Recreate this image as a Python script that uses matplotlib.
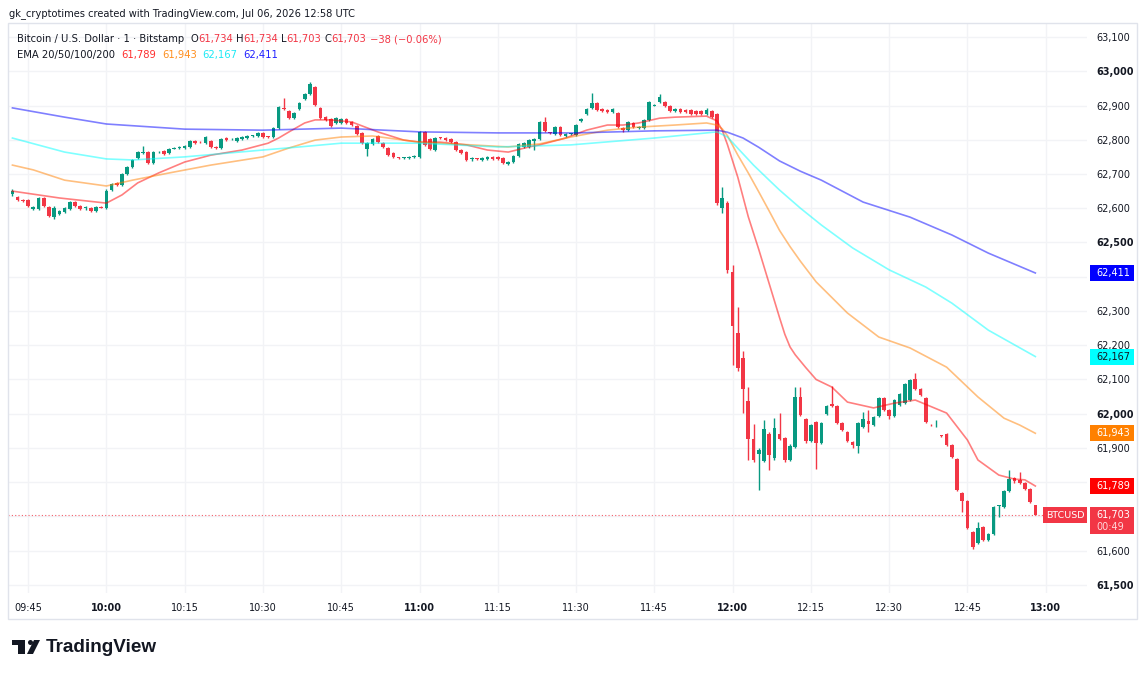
import matplotlib
matplotlib.use("Agg")
import matplotlib.pyplot as plt
from matplotlib.patches import Rectangle, Circle, Polygon
from matplotlib.transforms import IdentityTransform

# 1-minute BTCUSD candles, 09:42 .. 12:58 (index 0 = 09:42)
opens = [
    62642, 62632, 62624, 62624, 62598, 62598, 62630, 62604, 62575, 62583,
    62589, 62598, 62618, 62607, 62600, 62601, 62592, 62604, 62600, 62653,
    62674, 62668, 62700, 62720, 62746, 62761, 62764, 62732, 62763, 62767,
    62760, 62774, 62776, 62776, 62779, 62796, 62793, 62790, 62795, 62779,
    62776, 62805, 62801, 62796, 62802, 62805, 62810, 62811, 62820, 62808,
    62808, 62834, 62893, 62884, 62863, 62890, 62919, 62934, 62954, 62893,
    62866, 62861, 62849, 62849, 62861, 62852, 62840, 62820, 62773, 62788,
    62811, 62790, 62776, 62761, 62748, 62746, 62747, 62750, 62750, 62823,
    62802, 62770, 62806, 62805, 62802, 62793, 62770, 62764, 62743, 62745,
    62741, 62744, 62750, 62750, 62747, 62729, 62735, 62753, 62779, 62779,
    62796, 62802, 62852, 62821, 62817, 62837, 62811, 62816, 62814, 62855,
    62875, 62893, 62907, 62890, 62887, 62881, 62878, 62834, 62828, 62849,
    62834, 62834, 62858, 62900, 62910, 62910, 62899, 62884, 62890, 62887,
    62887, 62884, 62884, 62875, 62884, 62875, 62601, 62615, 62414, 62236,
    62163, 62037, 61926, 61882, 61862, 61941, 61871, 61941, 61929, 61865,
    61903, 62049, 61985, 61920, 61976, 61915, 61999, 62029, 62023, 61973,
    61947, 61917, 61906, 61961, 61979, 61967, 61993, 62046, 62011, 61993,
    62026, 62031, 62040, 62101, 62072, 62046, 61968, 61963, 61936, 61941,
    61909, 61868, 61769, 61745, 61655, 61623, 61669, 61631, 61649, 61730,
    61728, 61774, 61812, 61807, 61798, 61780, 61734]
highs = [
    62655, 62636, 62628, 62627, 62606, 62632, 62634, 62606, 62606, 62596,
    62603, 62620, 62622, 62610, 62608, 62604, 62606, 62607, 62655, 62674,
    62677, 62703, 62722, 62744, 62766, 62782, 62767, 62767, 62767, 62770,
    62776, 62779, 62783, 62785, 62799, 62800, 62796, 62810, 62798, 62782,
    62805, 62808, 62805, 62807, 62810, 62813, 62814, 62822, 62823, 62811,
    62836, 62898, 62922, 62888, 62881, 62909, 62936, 62969, 62957, 62896,
    62869, 62864, 62866, 62863, 62864, 62855, 62843, 62823, 62792, 62805,
    62814, 62793, 62779, 62764, 62751, 62751, 62753, 62756, 62826, 62826,
    62805, 62808, 62809, 62808, 62805, 62796, 62773, 62767, 62750, 62748,
    62750, 62752, 62753, 62753, 62750, 62738, 62756, 62791, 62793, 62801,
    62805, 62855, 62866, 62824, 62840, 62840, 62819, 62820, 62846, 62864,
    62892, 62936, 62910, 62893, 62890, 62892, 62881, 62837, 62855, 62852,
    62840, 62861, 62913, 62905, 62934, 62913, 62902, 62893, 62893, 62890,
    62890, 62887, 62887, 62893, 62887, 62878, 62662, 62620, 62434, 62312,
    62183, 62078, 61970, 61900, 61982, 61946, 61988, 62002, 61932, 61912,
    62078, 62078, 61988, 61970, 61979, 61976, 62026, 62081, 62026, 61976,
    61950, 61920, 61976, 62005, 62011, 61994, 62049, 62049, 62014, 62043,
    62061, 62090, 62101, 62119, 62075, 62049, 61970, 61982, 61938, 61944,
    61912, 61871, 61772, 61748, 61658, 61684, 61672, 61652, 61731, 61734,
    61777, 61836, 61815, 61830, 61801, 61783, 61734]
lows = [
    62636, 62620, 62618, 62604, 62595, 62596, 62605, 62574, 62570, 62580,
    62586, 62596, 62605, 62596, 62595, 62590, 62590, 62600, 62597, 62651,
    62665, 62666, 62698, 62718, 62744, 62758, 62728, 62730, 62760, 62755,
    62757, 62772, 62774, 62774, 62777, 62788, 62790, 62788, 62776, 62773,
    62774, 62796, 62799, 62794, 62800, 62803, 62808, 62809, 62806, 62805,
    62806, 62832, 62887, 62860, 62861, 62887, 62916, 62932, 62898, 62860,
    62855, 62837, 62847, 62846, 62846, 62841, 62814, 62787, 62753, 62786,
    62790, 62776, 62752, 62747, 62744, 62744, 62745, 62748, 62748, 62782,
    62770, 62767, 62803, 62797, 62791, 62767, 62758, 62738, 62738, 62741,
    62739, 62742, 62742, 62742, 62729, 62726, 62733, 62751, 62777, 62777,
    62770, 62800, 62823, 62817, 62815, 62811, 62809, 62814, 62812, 62853,
    62873, 62891, 62884, 62881, 62878, 62879, 62834, 62822, 62826, 62834,
    62832, 62832, 62856, 62898, 62908, 62896, 62881, 62882, 62879, 62879,
    62873, 62873, 62873, 62873, 62864, 62610, 62586, 62412, 62142, 62125,
    62002, 61865, 61860, 61777, 61858, 61836, 61866, 61922, 61860, 61862,
    61900, 61993, 61915, 61917, 61839, 61912, 61996, 62020, 61970, 61950,
    61917, 61900, 61885, 61958, 61947, 61964, 61990, 62008, 61985, 61990,
    62023, 62028, 62037, 62069, 62052, 61973, 61964, 61961, 61932, 61906,
    61871, 61774, 61713, 61663, 61605, 61620, 61627, 61627, 61646, 61699,
    61725, 61771, 61798, 61795, 61777, 61739, 61703]
closes = [
    62649, 62624, 62622, 62607, 62604, 62630, 62607, 62577, 62601, 62592,
    62601, 62618, 62607, 62598, 62601, 62592, 62604, 62602, 62650, 62671,
    62668, 62700, 62720, 62741, 62764, 62764, 62732, 62764, 62765, 62758,
    62773, 62776, 62779, 62782, 62796, 62790, 62792, 62808, 62779, 62776,
    62802, 62799, 62802, 62805, 62808, 62811, 62812, 62820, 62808, 62807,
    62834, 62896, 62890, 62863, 62878, 62907, 62934, 62963, 62901, 62863,
    62858, 62840, 62863, 62861, 62849, 62843, 62817, 62790, 62790, 62802,
    62793, 62779, 62755, 62750, 62747, 62748, 62750, 62753, 62823, 62785,
    62773, 62805, 62805, 62799, 62793, 62770, 62761, 62741, 62744, 62743,
    62747, 62750, 62744, 62744, 62732, 62735, 62753, 62788, 62790, 62799,
    62802, 62852, 62826, 62819, 62837, 62814, 62817, 62817, 62843, 62861,
    62890, 62907, 62887, 62884, 62881, 62890, 62837, 62828, 62852, 62837,
    62837, 62858, 62910, 62902, 62925, 62899, 62884, 62890, 62881, 62881,
    62875, 62875, 62875, 62887, 62866, 62615, 62630, 62420, 62256, 62134,
    62072, 61926, 61865, 61894, 61955, 61880, 61958, 61926, 61865, 61906,
    62049, 61996, 61920, 61967, 61915, 61973, 62023, 62023, 61973, 61953,
    61920, 61909, 61973, 61985, 61970, 61991, 62046, 62011, 61993, 62040,
    62058, 62087, 62098, 62072, 62055, 61976, 61966, 61965, 61934, 61909,
    61874, 61777, 61745, 61666, 61611, 61666, 61631, 61649, 61728, 61731,
    61774, 61809, 61804, 61798, 61780, 61741, 61703]

# EMA values at some candle indexes
ema20_t = [0, 9, 18, 21, 24, 28, 33, 38, 44, 49, 51, 53, 56, 58, 61, 65, 70, 75, 78, 82,
           87, 91, 95, 99, 101, 106, 110, 114, 117, 120, 124, 127, 133, 135, 136, 137, 139,
           141, 143, 145, 147, 148, 149, 150, 152, 154, 157, 160, 165, 169, 173, 179, 183,
           185, 189, 192, 194, 196]
ema20_v = [62650, 62630, 62615, 62639, 62674, 62703, 62735, 62755, 62770, 62790, 62805,
           62823, 62849, 62858, 62858, 62852, 62823, 62799, 62793, 62793, 62785, 62770,
           62764, 62779, 62785, 62805, 62828, 62843, 62843, 62849, 62863, 62866, 62869,
           62855, 62828, 62786, 62690, 62575, 62480, 62380, 62280, 62232, 62195, 62172,
           62135, 62100, 62078, 62034, 62017, 62031, 62040, 62002, 61923, 61865, 61821,
           61809, 61807, 61789]
ema50_t = [0, 4, 10, 18, 23, 30, 38, 48, 53, 58, 63, 69, 75, 78, 88, 95, 101, 107, 114,
           120, 127, 133, 135, 136, 137, 139, 141, 143, 145, 147, 149, 151, 154, 160, 166,
           172, 179, 185, 190, 193, 196]
ema50_v = [62726, 62712, 62682, 62665, 62682, 62703, 62726, 62750, 62776, 62799, 62808,
           62811, 62799, 62793, 62785, 62779, 62788, 62808, 62828, 62837, 62843, 62849,
           62843, 62832, 62812, 62755, 62703, 62648, 62592, 62535, 62488, 62445, 62385,
           62294, 62224, 62192, 62136, 62049, 61987, 61967, 61943]
ema100_t = [0, 10, 18, 23, 33, 48, 55, 63, 78, 93, 107, 123, 135, 137, 139, 142, 145, 147,
            151, 155, 161, 168, 175, 180, 187, 196]
ema100_v = [62805, 62764, 62744, 62741, 62750, 62770, 62779, 62790, 62790, 62779, 62785,
            62805, 62823, 62808, 62775, 62726, 62682, 62653, 62600, 62551, 62484, 62420,
            62370, 62323, 62244, 62167]
ema200_t = [0, 10, 18, 33, 48, 63, 78, 93, 108, 123, 135, 137, 140, 143, 147, 151, 155, 163,
            172, 180, 187, 196]
ema200_v = [62893, 62866, 62846, 62831, 62828, 62834, 62823, 62820, 62820, 62826, 62828,
            62822, 62805, 62778, 62738, 62708, 62682, 62618, 62574, 62522, 62469, 62411]

time_ticks = [3 + 15 * k for k in range(14)]
time_labels = ["09:45", "10:00", "10:15", "10:30", "10:45", "11:00", "11:15",
               "11:30", "11:45", "12:00", "12:15", "12:30", "12:45", "13:00"]
price_ticks = list(range(61500, 63101, 100))

UP, DOWN, TXT = "#089981", "#f23645", "#131722"
W, H = 1147, 675


def fx(px):
    return px / W


def fy(py):
    return 1 - py / H


fig = plt.figure(figsize=(W / 100, H / 100), dpi=100)
ax = fig.add_axes([fx(8), fy(593), fx(1087) - fx(8), fy(23) - fy(593)])

idx = list(range(len(closes)))
cols = [UP if c >= o else DOWN for o, c in zip(opens, closes)]
ax.vlines(idx, lows, highs, colors=cols, lw=1, zorder=3)
ax.bar(idx, [max(abs(c - o), 2.5) for o, c in zip(opens, closes)],
       bottom=[min(o, c) for o, c in zip(opens, closes)],
       width=0.7, color=cols, linewidth=0, zorder=3)

for t, v, c in [(ema20_t, ema20_v, "#ff0000"), (ema50_t, ema50_v, "#ff8000"),
                (ema100_t, ema100_v, "#00ffff"), (ema200_t, ema200_v, "#0000ff")]:
    ax.plot(t, v, color=c, alpha=0.5, lw=1.2, zorder=4, solid_joinstyle="round")

ax.axhline(closes[-1], color=DOWN, alpha=0.8, lw=0.8, ls=(0, (1, 2)), zorder=2)

ax.set_xlim(-0.85, 205.9)
ax.set_ylim(61476.6, 63140.9)
ax.set_xticks(time_ticks)
ax.set_xticklabels(time_labels)
ax.set_yticks(price_ticks)
ax.set_yticklabels([f"{p:,}" for p in price_ticks])
ax.yaxis.tick_right()
ax.tick_params(axis="both", length=0, labelsize=7, labelcolor=TXT)
ax.tick_params(axis="x", pad=7)
ax.tick_params(axis="y", pad=7)
for lab in ax.get_xticklabels():
    if lab.get_text().endswith(":00"):
        lab.set_fontweight("bold")

tag_values = [ema200_v[-1], ema100_v[-1], ema50_v[-1], ema20_v[-1], closes[-1]]
for lab, p in zip(ax.get_yticklabels(), price_ticks):
    if p % 500 == 0:
        lab.set_fontweight("bold")
    # labels sitting under a price tag are hidden, as on the scale
    if any(abs(p - v) < 30 for v in tag_values):
        lab.set_visible(False)
ax.grid(True, color="#f2f3f6", lw=1)
ax.set_axisbelow(True)
for s in ax.spines.values():
    s.set_visible(False)

fig.add_artist(Rectangle((fx(8), fy(619)), fx(1137) - fx(8), fy(23) - fy(619),
                         transform=fig.transFigure, fill=False, ec="#e0e3eb", lw=1))

fig.canvas.draw()
renderer = fig.canvas.get_renderer()


def ypix(price):
    return ax.transData.transform((0, price))[1]


# price tags on the right scale
tags = [(ema200_v[-1], "#0000ff", "white"), (ema100_v[-1], "#00ffff", TXT),
        (ema50_v[-1], "#ff8000", "white"), (ema20_v[-1], "#ff0000", "white")]
for val, fc, tc in tags:
    y = ypix(val)
    fig.add_artist(Rectangle((1090, y - 8), 44, 16, transform=IdentityTransform(),
                             fc=fc, ec="none", zorder=5))
    fig.text(fx(1096), y / H, f"{val:,}", color=tc, fontsize=7, va="center", zorder=6)

y = ypix(closes[-1])
fig.add_artist(Rectangle((1090, y - 19), 44, 27, transform=IdentityTransform(),
                         fc=DOWN, ec="none", zorder=5))
fig.text(fx(1096), (y + 0.5) / H, f"{closes[-1]:,}", color="white", fontsize=7,
         va="center", zorder=6)
fig.text(fx(1096), (y - 12) / H, "00:49", color="#ffd6da", fontsize=7, va="center", zorder=6)
fig.add_artist(Rectangle((1043, y - 8), 44, 16, transform=IdentityTransform(),
                         fc=DOWN, ec="none", zorder=5))
fig.text(fx(1065), y / H, "BTCUSD", color="white", fontsize=6.8, va="center",
         ha="center", zorder=6)


def row(x, yy, parts, size):
    for txt, color, gap in parts:
        t = fig.text(fx(x), fy(yy), txt, color=color, fontsize=size, va="center", ha="left")
        x = t.get_window_extent(renderer).x1 + gap


fig.text(fx(9), fy(14), "gk_cryptotimes created with TradingView.com, Jul 06, 2026 12:58 UTC",
         color=TXT, fontsize=7.1, va="center")

chg = closes[-1] - closes[-2]
pct = chg / closes[-2] * 100
row(17, 39, [("Bitcoin / U.S. Dollar · 1 · Bitstamp", TXT, 6),
             ("O", TXT, 0), (f"{opens[-1]:,}", DOWN, 3),
             ("H", TXT, 0), (f"{highs[-1]:,}", DOWN, 3),
             ("L", TXT, 0), (f"{lows[-1]:,}", DOWN, 3),
             ("C", TXT, 0), (f"{closes[-1]:,}", DOWN, 4),
             (f"\u2212{abs(chg)} (\u2212{abs(pct):.2f}%)", DOWN, 0)], 7.2)
row(17, 55, [("EMA 20/50/100/200", TXT, 6),
             (f"{ema20_v[-1]:,}", "#ff2e2e", 6), (f"{ema50_v[-1]:,}", "#ff8f1f", 6),
             (f"{ema100_v[-1]:,}", "#1de9f5", 6), (f"{ema200_v[-1]:,}", "#2020ff", 0)], 7.2)

# TradingView logo
fig.add_artist(Rectangle((12, H - 645), 13, 5, transform=IdentityTransform(), fc=TXT, ec="none"))
fig.add_artist(Rectangle((18, H - 654), 7, 14, transform=IdentityTransform(), fc=TXT, ec="none"))
fig.add_artist(Circle((30.5, H - 642.5), 2.5, transform=IdentityTransform(), fc=TXT, ec="none"))
fig.add_artist(Polygon([(34, H - 640), (40, H - 640), (33, H - 654), (27, H - 654)],
                       transform=IdentityTransform(), fc=TXT, ec="none"))
fig.text(fx(46), fy(648), "TradingView", family="Liberation Sans", fontweight="bold",
         fontsize=13.6, color=TXT, va="center")

fig.savefig("out.png", dpi=100)
